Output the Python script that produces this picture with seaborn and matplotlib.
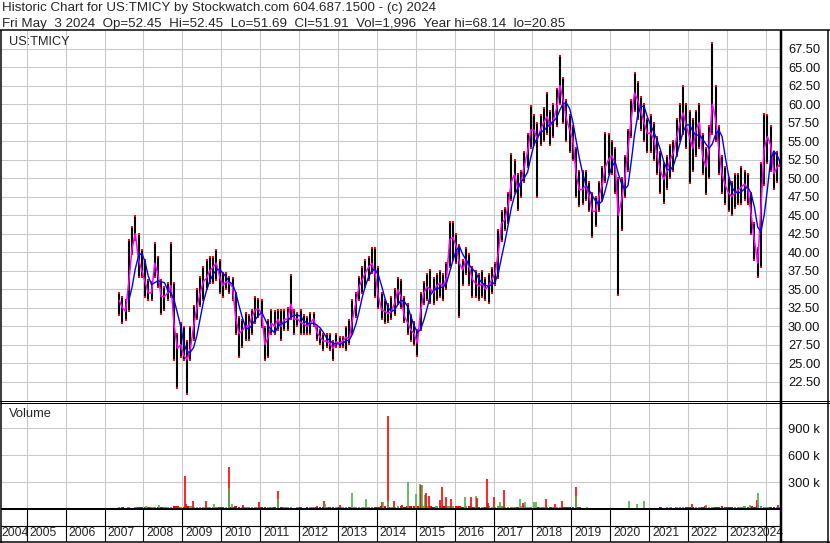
import numpy as np
import pandas as pd
import matplotlib
matplotlib.use("Agg")
import matplotlib.pyplot as plt
from matplotlib.lines import Line2D
import seaborn as sns

# ==========================================
# DATA (monthly, May 2007 - May 2024)
# ==========================================

start_month = "2007-05"
end_month = "2024-05"

price_high = [
    # 2007 (May-Dec)
    34.5, 34.0, 33.5, 41.6, 43.4, 44.9, 42.5, 40.3,
    # 2008
    39.0, 36.3, 36.0, 41.2, 39.4, 36.3, 35.3, 35.8, 41.2, 35.8, 29.0, 30.4,
    # 2009
    29.9, 28.0, 29.9, 32.7, 35.0, 36.7, 38.0, 39.0, 39.4, 39.4, 40.3, 39.0,
    # 2010
    37.2, 37.2, 36.7, 36.5, 34.5, 31.3, 30.8, 31.8, 31.5, 32.2, 34.0, 33.7,
    # 2011
    33.5, 29.9, 30.8, 32.2, 32.0, 32.2, 32.2, 32.2, 32.5, 36.9, 32.2, 31.8,
    # 2012
    32.2, 31.5, 31.3, 31.8, 31.8, 29.9, 29.5, 29.0, 29.0, 29.0, 28.0, 29.0,
    # 2013
    28.5, 28.5, 29.9, 30.8, 33.5, 34.5, 36.7, 38.0, 39.0, 39.4, 40.5, 40.5,
    # 2014
    38.0, 34.5, 33.5, 33.0, 34.0, 35.0, 36.5, 36.2, 34.0, 33.0, 31.5, 30.5,
    # 2015
    29.5, 34.5, 36.0, 37.0, 37.6, 36.5, 37.0, 37.5, 37.0, 38.5, 44.1, 44.1,
    # 2016
    42.5, 41.0, 39.0, 40.5, 39.8, 38.0, 37.5, 37.0, 37.5, 36.5, 37.0, 37.8,
    # 2017
    38.5, 43.0, 45.5, 46.0, 48.0, 53.2, 52.5, 50.5, 51.0, 53.5, 56.0, 59.7,
    # 2018
    58.5, 57.5, 58.5, 59.5, 61.5, 59.0, 60.0, 62.0, 66.5, 63.5, 60.5, 58.5,
    # 2019
    57.0, 54.0, 51.0, 51.0, 51.0, 49.5, 48.0, 47.5, 49.5, 51.5, 56.1, 56.0,
    # 2020
    55.0, 54.0, 50.0, 50.0, 53.0, 56.5, 60.5, 64.2, 63.0, 61.0, 60.0, 58.0,
    # 2021
    58.5, 57.5, 55.5, 53.5, 52.0, 53.0, 54.5, 55.0, 58.0, 60.0, 62.4, 60.0,
    # 2022
    59.0, 58.0, 59.0, 60.0, 56.0, 54.0, 57.0, 68.2, 62.5, 57.0, 53.0, 51.5,
    # 2023
    50.0, 49.5, 50.5, 50.5, 51.5, 51.0, 50.5, 48.0, 44.0, 40.5, 52.0, 58.7,
    # 2024 (Jan-May)
    58.5, 57.0, 53.5, 53.5, 52.45,
]

price_low = [
    31.5, 30.4, 30.8, 32.0, 39.8, 41.6, 36.7, 36.7,
    34.0, 33.5, 33.5, 36.7, 35.3, 31.7, 32.2, 33.5, 33.9, 25.4, 21.6, 25.9,
    25.4, 20.9, 25.4, 28.1, 31.0, 32.7, 33.5, 35.0, 35.8, 35.8, 36.3, 34.5,
    34.0, 35.0, 34.5, 33.5, 29.0, 25.9, 27.2, 28.1, 28.1, 29.0, 30.4, 31.3,
    29.9, 25.4, 25.9, 29.0, 29.0, 29.5, 28.1, 29.5, 29.5, 31.0, 29.0, 30.0,
    29.0, 29.0, 29.0, 29.0, 30.0, 28.1, 27.6, 26.8, 27.2, 26.8, 25.4, 27.2,
    27.2, 27.2, 26.8, 27.6, 29.0, 31.3, 33.5, 34.5, 35.3, 36.3, 37.2, 34.0,
    32.5, 31.0, 30.4, 30.5, 31.0, 31.5, 33.0, 32.5, 30.5, 29.0, 28.0, 27.5,
    26.0, 29.5, 33.0, 33.5, 33.1, 33.0, 33.5, 34.0, 33.5, 35.0, 38.0, 39.0,
    38.5, 31.3, 35.5, 37.0, 35.5, 34.0, 34.0, 33.5, 34.0, 33.5, 33.1, 34.5,
    35.5, 36.5, 41.5, 43.0, 44.0, 47.0, 48.0, 45.7, 47.5, 49.5, 51.5, 54.0,
    54.5, 47.5, 54.5, 55.0, 56.0, 54.5, 55.5, 57.0, 60.0, 57.5, 55.0, 53.5,
    52.5, 47.5, 46.2, 46.5, 47.0, 45.5, 42.1, 43.5, 45.5, 47.0, 49.5, 50.5,
    50.5, 48.0, 34.2, 43.0, 47.5, 51.0, 55.5, 59.0, 58.0, 56.5, 55.0, 53.5,
    53.5, 52.5, 50.5, 48.0, 46.6, 48.5, 50.0, 51.0, 53.0, 55.0, 56.0, 54.0,
    49.3, 51.0, 53.0, 54.0, 50.5, 47.9, 50.0, 56.0, 55.0, 50.5, 48.0, 46.5,
    45.5, 45.0, 46.0, 46.5, 46.5, 47.0, 46.5, 42.5, 39.0, 36.6, 38.0, 49.0,
    52.0, 51.0, 48.5, 49.5, 51.69,
]

# short moving average (magenta line)
price_ma = [
    33.5, 32.5, 32.0, 36.0, 40.5, 42.5, 39.0, 37.5,
    36.0, 34.5, 34.5, 38.5, 37.0, 34.0, 34.0, 34.5, 35.5, 30.0, 27.0, 27.5,
    26.0, 25.5, 27.0, 30.0, 32.5, 34.5, 36.0, 36.5, 37.5, 38.0, 38.5, 36.7,
    35.5, 36.0, 35.8, 35.3, 31.0, 29.0, 29.4, 30.0, 30.0, 31.3, 32.2, 32.3,
    31.7, 27.5, 28.5, 30.4, 30.0, 30.9, 30.0, 30.9, 31.0, 33.0, 30.9, 31.0,
    30.5, 30.3, 30.0, 30.4, 31.0, 29.2, 28.5, 28.0, 28.0, 27.7, 27.0, 27.9,
    27.7, 28.0, 28.5, 28.3, 31.0, 33.0, 35.3, 36.3, 37.2, 38.0, 38.5, 37.0,
    34.0, 32.2, 32.0, 31.7, 32.0, 33.1, 34.9, 34.0, 31.3, 30.5, 29.5, 29.0,
    27.7, 32.0, 34.5, 35.3, 35.0, 34.5, 35.5, 35.8, 35.4, 36.5, 41.7, 42.0,
    40.8, 38.5, 37.6, 39.0, 38.0, 36.3, 35.8, 35.4, 35.8, 35.0, 35.4, 36.3,
    37.2, 40.0, 43.9, 44.4, 46.2, 49.5, 50.5, 48.5, 49.5, 51.6, 53.5, 56.5,
    56.5, 55.2, 56.5, 57.5, 58.3, 57.0, 57.9, 59.5, 62.5, 60.5, 58.0, 56.5,
    55.2, 50.5, 48.4, 48.5, 49.0, 47.5, 45.5, 45.5, 47.5, 49.0, 51.5, 52.5,
    53.0, 52.0, 45.0, 47.0, 50.0, 54.0, 58.0, 61.5, 60.5, 59.0, 57.4, 56.0,
    56.1, 55.2, 53.0, 51.0, 49.8, 51.0, 52.5, 53.4, 55.5, 57.4, 58.8, 57.0,
    55.5, 54.0, 56.5, 57.5, 53.0, 51.5, 54.0, 60.0, 58.0, 54.0, 50.5, 49.0,
    48.0, 47.5, 48.0, 48.4, 48.8, 49.2, 48.5, 45.0, 41.5, 38.5, 46.0, 54.0,
    55.6, 54.5, 50.6, 51.5, 51.9,
]

# typical daily volume level per month (thousands)
volume_base = [
    20, 18, 15, 18, 15, 20, 18, 22,
    22, 25, 20, 18, 22, 25, 20, 22, 25, 28, 30, 22,
    25, 30, 28, 22, 25, 20, 18, 22, 20, 25, 22, 18,
    20, 18, 22, 25, 30, 25, 22, 18, 20, 22, 20, 18,
    22, 25, 20, 18, 22, 20, 18, 22, 20, 18, 15, 18,
    18, 15, 18, 20, 18, 22, 20, 18, 20, 18, 22, 18,
    20, 18, 22, 20, 25, 22, 25, 20, 22, 25, 22, 20,
    25, 28, 30, 25, 22, 25, 30, 28, 25, 30, 28, 30,
    35, 40, 35, 30, 28, 25, 28, 30, 35, 30, 28, 30,
    28, 30, 25, 28, 30, 25, 22, 20, 22, 25, 30, 25,
    25, 28, 30, 25, 22, 20, 22, 25, 28, 30, 25, 22,
    25, 22, 20, 25, 22, 20, 18, 20, 22, 18, 20, 22,
    25, 20, 18, 15, 12, 10, 12, 10, 12, 10, 12, 10,
    12, 10, 15, 12, 10, 15, 12, 10, 12, 15, 12, 10,
    12, 10, 15, 18, 15, 20, 18, 15, 18, 20, 22, 18,
    22, 25, 20, 22, 25, 28, 22, 25, 22, 25, 28, 22,
    25, 22, 20, 25, 22, 28, 25, 30, 25, 28, 30, 22,
    20, 18, 22, 20, 18,
]

# single heavy trading days (date as decimal year, volume in thousands)
spike_dates = [
    2008.07, 2008.41, 2009.06, 2009.09, 2009.28, 2009.62, 2009.82,
    2010.21, 2010.21, 2010.27, 2010.55, 2010.97, 2011.47, 2011.47,
    2012.47, 2012.63, 2012.66, 2013.05, 2013.35, 2013.72, 2014.13,
    2014.15, 2014.28, 2014.28, 2014.44, 2014.66, 2014.79, 2015.01,
    2015.12, 2015.14, 2015.17, 2015.23, 2015.26, 2015.34, 2015.62,
    2015.67, 2015.78, 2015.91, 2016.27, 2016.41, 2016.55, 2016.58,
    2016.83, 2016.87, 2017.01, 2017.17, 2017.27, 2017.68, 2017.77,
    2017.80, 2018.04, 2018.10, 2018.35, 2018.58, 2018.75, 2019.11,
    2019.11, 2019.40, 2020.49, 2020.68, 2020.87, 2022.10, 2022.47,
    2023.60, 2023.78, 2023.81, 2024.32,
]
spike_vols = [
    33, 45, 368, 52, 89, 89, 60,
    465, 238, 56, 45, 82, 200, 108,
    37, 93, 56, 45, 175, 112, 74,
    74, 1037, 89, 89, 45, 298, 164,
    275, 268, 268, 156, 175, 145, 100,
    249, 138, 112, 138, 138, 145, 119,
    335, 63, 138, 74, 212, 112, 71,
    82, 82, 74, 112, 56, 89, 249,
    149, 26, 89, 56, 89, 56, 40,
    45, 100, 179, 45,
]
spike_up = [
    1, 1, 0, 0, 0, 0, 1,
    0, 1, 1, 0, 0, 0, 1,
    0, 0, 1, 0, 1, 1, 0,
    1, 0, 1, 0, 0, 1, 1,
    1, 0, 1, 1, 0, 0, 0,
    0, 0, 0, 1, 0, 1, 0,
    0, 0, 0, 1, 0, 1, 0,
    1, 1, 1, 0, 0, 0, 0,
    1, 1, 1, 1, 1, 0, 1,
    1, 0, 1, 0,
]

year_ticks = list(range(2005, 2025))
price_ticks = [22.5 + 2.5 * i for i in range(19)]
volume_ticks = [300, 600, 900]

header_1 = "Historic Chart for US:TMICY by Stockwatch.com 604.687.1500 - (c) 2024"
header_2 = ("Fri May  3 2024  Op=52.45  Hi=52.45  Lo=51.69  Cl=51.91  "
            "Vol=1,996  Year hi=68.14  lo=20.85")

# ==========================================
# FRAME
# ==========================================

months = pd.period_range(start_month, end_month, freq="M")
df = pd.DataFrame({
    "t": months.year + (months.month - 0.5) / 12,
    "high": price_high,
    "low": price_low,
    "ma": price_ma,
    "vol": volume_base,
})
df["ma_long"] = df["ma"].rolling(4).mean()
df["up"] = df["ma"].diff().fillna(1) >= 0

RED = "#ff0000"
GREEN = "#4cb24c"
GRID = "#c8c8c8"

sns.set_style("white")
plt.rcParams["font.family"] = ["Liberation Sans", "DejaVu Sans"]

W, H = 830, 543
fig = plt.figure(figsize=(W / 100, H / 100), dpi=100)


def box(x0, y0, x1, y1):
    return [x0 / W, 1 - y1 / H, (x1 - x0) / W, (y1 - y0) / H]


def fline(xs, ys, lw_px):
    fig.add_artist(Line2D([x / W for x in xs], [1 - y / H for y in ys],
                          transform=fig.transFigure, color="black",
                          lw=lw_px * 0.72, solid_capstyle="butt"))


X0, X1 = 1, 781
YR_PX = 38.9
xmin = 2015 - (415.7 - X0) / YR_PX
xmax = 2015 + (X1 - 415.7) / YR_PX

# ==========================================
# PRICE PANEL
# ==========================================

ax_p = fig.add_axes(box(X0, 30, X1, 400.5))
ax_p.vlines(df["t"], df["low"], df["high"], color="black", lw=1.5, zorder=2)
ax_p.plot(df["t"], df["high"], "s", color=RED, ms=1.6, mew=0, zorder=3)
ax_p.plot(df["t"], df["low"], "s", color=RED, ms=1.6, mew=0, zorder=3)
sns.lineplot(data=df, x="t", y="ma", color="#ff00ff", lw=1.1,
             estimator=None, ax=ax_p, zorder=4)
sns.lineplot(data=df, x="t", y="ma_long", color="#0000ff", lw=1.0,
             estimator=None, ax=ax_p, zorder=5)

ax_p.set_xlim(xmin, xmax)
ax_p.set_ylim(19.96, 70.0)
ax_p.set_xticks(year_ticks)
ax_p.set_yticks(price_ticks)
ax_p.set_yticklabels([f"{v:.2f}" for v in price_ticks])
ax_p.yaxis.tick_right()
ax_p.tick_params(axis="y", length=0, pad=5, labelsize=9.3, labelcolor="#101010")
ax_p.tick_params(axis="x", length=0, labelbottom=False)
ax_p.grid(True, color=GRID, lw=0.75, zorder=0)
ax_p.set_axisbelow(True)
ax_p.set_xlabel("")
ax_p.set_ylabel("")
for s in ax_p.spines.values():
    s.set_visible(False)
ax_p.text(8 / (X1 - X0), 1 - 11.7 / 370.5, "US:TMICY", transform=ax_p.transAxes,
          fontsize=9.2, va="center", ha="left")

# ==========================================
# VOLUME PANEL
# ==========================================

ax_v = fig.add_axes(box(X0, 403, X1, 509))
ax_v.bar(df["t"], df["vol"], width=0.07,
         color=[GREEN if u else RED for u in df["up"]], linewidth=0, zorder=2)
ax_v.vlines(spike_dates, 0, spike_vols,
            colors=[GREEN if u else RED for u in spike_up], lw=1.2, zorder=3)
ax_v.set_xlim(xmin, xmax)
ax_v.set_ylim(0, 1182)
ax_v.set_xticks(year_ticks)
ax_v.set_yticks(volume_ticks)
ax_v.set_yticklabels([f"{v} k" for v in volume_ticks])
ax_v.yaxis.tick_right()
ax_v.tick_params(axis="y", length=0, pad=5, labelsize=9.3, labelcolor="#101010")
ax_v.tick_params(axis="x", length=0, labelbottom=False)
ax_v.grid(True, color=GRID, lw=0.75, zorder=0)
ax_v.set_axisbelow(True)
for s in ax_v.spines.values():
    s.set_visible(False)
ax_v.text(8 / (X1 - X0), 1 - 11 / 106, "Volume", transform=ax_v.transAxes,
          fontsize=9.3, va="center", ha="left")

# ==========================================
# YEAR BAND
# ==========================================

ax_x = fig.add_axes(box(X0, 509, X1, 542))
ax_x.set_xlim(xmin, xmax)
ax_x.set_ylim(0, 33)
ax_x.vlines(year_ticks, 0, 33, color="black", lw=0.8)
ax_x.axhline(16, color="black", lw=0.8)
for yr in range(2004, 2025):
    left = max(yr, xmin)
    right = min(yr + 1, xmax)
    centre = (left + right) / 2 - 3 / YR_PX
    if yr == 2004:
        # keep the partial first year readable at the left edge
        centre += 3.8 / YR_PX
    ax_x.text(centre, 9, str(yr), ha="center", va="center", fontsize=8.8,
              clip_on=False)
ax_x.axis("off")

# ==========================================
# BORDERS AND HEADER
# ==========================================

fline([0, 830], [30, 30], 1.5)
fline([0, 830], [400.5, 400.5], 1)
fline([0, 830], [403, 403], 1)
fline([X0, X1], [509, 509], 2)
fline([0.5, 0.5], [30, 543], 1.5)
fline([X1, X1], [30, 543], 2.5)
fline([828, 828], [30, 543], 1.5)
fline([0, 830], [542.3, 542.3], 1.5)

fig.text(2 / W, 1 - 11 / H, header_1, fontsize=9.6, va="baseline", ha="left")
fig.text(2 / W, 1 - 26.5 / H, header_2, fontsize=9.6, va="baseline", ha="left")

fig.savefig("out.png", dpi=100)
